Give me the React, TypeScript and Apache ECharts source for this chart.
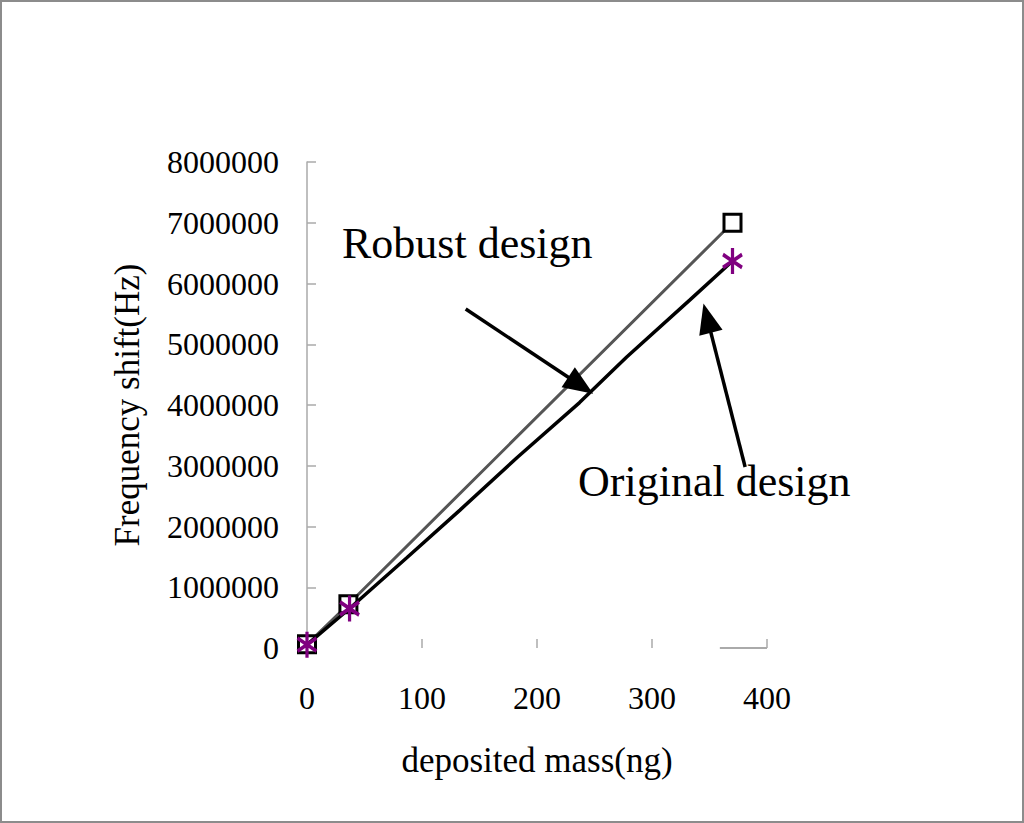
import React, { useEffect, useRef } from "react";
import * as echarts from "echarts";

// deposited mass (ng) and frequency shift (Hz)
const robustMass = [0, 36, 370];
const robustShift = [60000, 720000, 7000000];

const originalMass = [0, 37, 87, 133, 183, 237, 278, 333, 370];
const originalShift = [55000, 650000, 1490000, 2270000, 3140000, 4040000, 4790000, 5730000, 6370000];
const originalMarked = [true, true, false, false, false, false, false, false, true];

const xTicks = [0, 100, 200, 300, 400];
const yMax = 8000000;
const yStep = 1000000;

// annotation arrows in data coordinates: [tailX, tailY, tipX, tipY]
const robustArrow = [138, 5580000, 238, 4320000];
const originalArrow = [381, 2980000, 348, 5430000];

const SERIF = "'Liberation Serif', 'Times New Roman', serif";
const STAR = "path://M0 0L0 20M-8.66 5L8.66 15M-8.66 15L8.66 5";

export default function App() {
  const ref = useRef<HTMLDivElement>(null);

  useEffect(() => {
    document.body.style.margin = "0";
    const chart = echarts.init(ref.current!, undefined, { renderer: "svg" });

    const arrowLine = (a: number[]) => [
      { coord: [a[0], a[1]], symbol: "none" },
      { coord: [a[2], a[3]], symbol: "triangle", symbolSize: [24, 30] },
    ];

    chart.setOption({
      animation: false,
      backgroundColor: "#fff",
      grid: { left: 307, right: 257, top: 162, bottom: 175, containLabel: false },
      xAxis: {
        type: "value",
        min: xTicks[0],
        max: xTicks[xTicks.length - 1],
        interval: 100,
        name: "deposited mass(ng)",
        nameLocation: "middle",
        nameGap: 95,
        nameTextStyle: { fontFamily: SERIF, fontSize: 35, color: "#000" },
        axisLine: { show: false },
        axisTick: { show: true, inside: true, length: 9, lineStyle: { color: "#aaa", width: 1.5 } },
        axisLabel: { fontFamily: SERIF, fontSize: 32, color: "#000", margin: 34 },
        splitLine: { show: false },
      },
      yAxis: {
        type: "value",
        min: 0,
        max: yMax,
        interval: yStep,
        name: "Frequency shift(Hz)",
        nameLocation: "middle",
        nameGap: 162,
        nameTextStyle: { fontFamily: SERIF, fontSize: 35, color: "#000" },
        axisLine: { show: true, lineStyle: { color: "#aaa", width: 1.5 } },
        axisTick: { show: true, inside: true, length: 9, lineStyle: { color: "#aaa", width: 1.5 } },
        axisLabel: {
          fontFamily: SERIF,
          fontSize: 32,
          color: "#000",
          margin: 28,
          formatter: (v: number) => String(v),
        },
        splitLine: { show: false },
      },
      series: [
        {
          name: "Robust design",
          type: "line",
          data: robustMass.map((m, i) => [m, robustShift[i]]),
          symbol: "rect",
          symbolSize: 17,
          showAllSymbol: true,
          lineStyle: { color: "#555", width: 3 },
          itemStyle: { color: "#fff", borderColor: "#000", borderWidth: 3 },
          z: 2,
          markLine: {
            silent: true,
            animation: false,
            label: { show: false },
            symbol: ["none", "none"],
            lineStyle: { type: "solid", color: "#000", width: 3.5 },
            data: [
              arrowLine(robustArrow),
              arrowLine(originalArrow),
              [
                { coord: [359, 0], symbol: "none", lineStyle: { color: "#aaa", width: 2 } },
                { coord: [400, 0], symbol: "none" },
              ],
            ],
          },
        },
        {
          name: "Original design",
          type: "line",
          data: originalMass.map((m, i) =>
            originalMarked[i]
              ? [m, originalShift[i]]
              : { value: [m, originalShift[i]], symbol: "none" }
          ),
          symbol: STAR,
          symbolSize: [22, 26],
          symbolKeepAspect: true,
          showAllSymbol: true,
          lineStyle: { color: "#000", width: 3.5 },
          itemStyle: { color: "rgba(0,0,0,0)", borderColor: "#800080", borderWidth: 3.5 },
          z: 3,
        },
      ],
      graphic: [
        {
          type: "rect",
          shape: { x: 1, y: 1, width: 1022, height: 821 },
          style: { fill: "none", stroke: "#8c8c8c", lineWidth: 2 },
          silent: true,
          z: 100,
        },
        {
          type: "text",
          left: 342,
          top: 221,
          style: { text: "Robust design", font: `44px ${SERIF}`, fill: "#000" },
        },
        {
          type: "text",
          left: 578,
          top: 459,
          style: { text: "Original design", font: `44px ${SERIF}`, fill: "#000" },
        },
      ],
    });

    return () => chart.dispose();
  }, []);

  return <div ref={ref} style={{ width: 1024, height: 823 }} />;
}
